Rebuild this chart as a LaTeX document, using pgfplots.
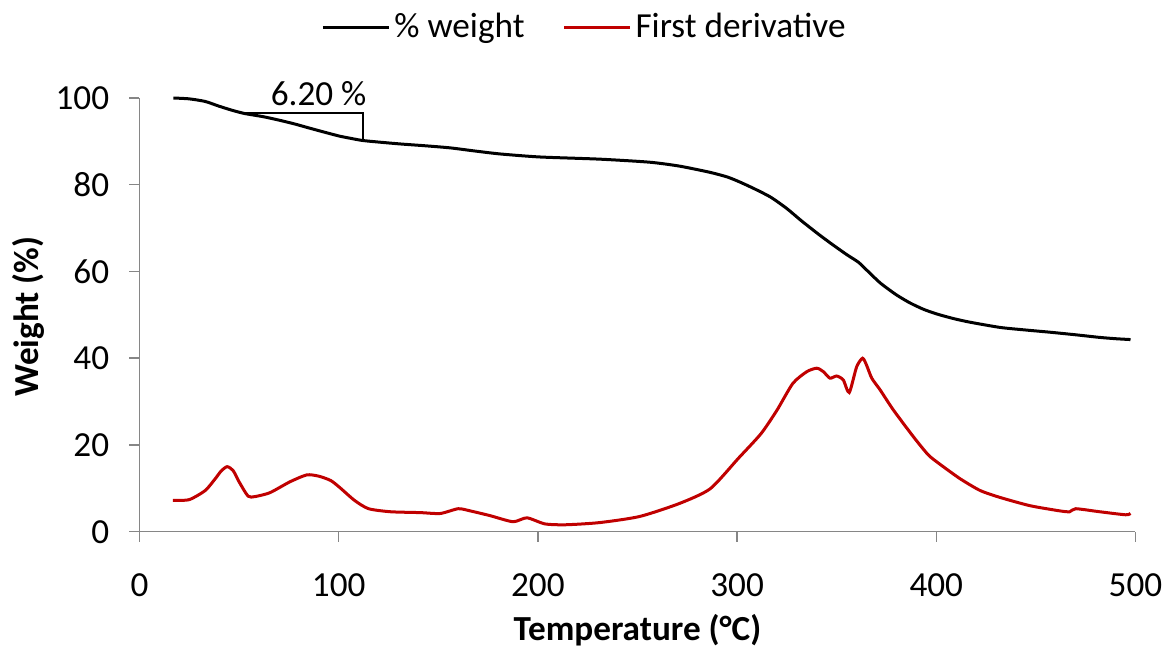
\documentclass[border=0pt]{standalone}
\usepackage{fontspec}
\setmainfont{Carlito}
\usepackage{pgfplots}
\pgfplotsset{compat=1.18}
\definecolor{dred}{RGB}{192,0,0}
\definecolor{axgrey}{RGB}{134,134,134}
\begin{document}
\fontsize{17.6}{21}\selectfont
\begin{tikzpicture}
\path[use as bounding box] (-69.75pt,-58.15pt) rectangle (514.25pt,265.85pt);
\begin{axis}[
  scale only axis,
  width=498pt, height=216.85pt,
  xmin=0, xmax=500, ymin=0, ymax=100,
  xtick={0,100,...,500}, ytick={0,20,...,100},
  axis x line*=bottom, axis y line*=left,
  axis line style={axgrey, line width=0.75pt},
  every tick/.style={axgrey, line width=0.75pt},
  tick align=outside, major tick length=5pt,
  /pgf/number format/assume math mode=true,
  xticklabel style={anchor=north, inner sep=0pt, yshift=-16pt},
  yticklabel style={anchor=east, inner sep=0pt, xshift=-10pt},
  xlabel={\bfseries Temperature (°C)},
  ylabel={\bfseries Weight (\%)},
  xlabel style={at={(axis description cs:0.5,0)}, anchor=center, yshift=-49.15pt},
  ylabel style={at={(axis description cs:0,0.496)}, anchor=center, yshift=55.75pt},
  legend columns=2,
  legend style={at={(0.4478,1.1614)}, anchor=center, draw=none, fill=none,
    /tikz/every even column/.append style={column sep=17pt}},
  legend image code/.code={\draw[#1] (0pt,0pt) -- (33pt,0pt);},
  clip=false,
]
\addplot[black, line width=1.5pt, smooth, tension=0.4] coordinates {
(17,100) (25,99.8) (33,99.2) (40,98.1) (47,97.1) (53,96.4) (62,95.7) (70,94.9) (78,94.0) (85,93.1) (93,92.1)
(100.5,91.2) (106,90.7) (112,90.2) (121,89.8) (131,89.4) (143,89.0) (156,88.5) (168,87.8) (181,87.1) (201,86.4)
(231,85.9) (256,85.2) (271,84.3) (286,82.9) (295,81.8) (301.5,80.6) (309,79.0) (317,77.1) (325,74.5) (332,71.8)
(340,68.9) (347,66.5) (355,63.9) (361,62.1) (366,59.9) (372,57.3) (380,54.6) (387,52.7) (394,51.2) (401,50.1)
(409,49.1) (417,48.3) (432,47.1) (445,46.5) (457,46.0) (470,45.4) (482,44.8) (490,44.5) (497.5,44.3)
};
\addlegendentry{\% weight}
\addplot[dred, line width=1.5pt, smooth, tension=0.4] coordinates {
(16.8,7.2) (25,7.4) (33,9.5) (38,12.2) (41,14.0) (44,15.0) (47,14.1) (50,11.5) (54.5,8.2) (58,8.1)
(65.5,9.0) (75.5,11.5) (84,13.1) (90,12.8) (96,11.8) (100.5,10.2) (108,7.2) (115,5.3) (126,4.6) (141,4.4) (151,4.2)
(160,5.3) (166,4.8) (176,3.7) (187.5,2.3) (194.5,3.2) (203.5,1.8) (214,1.6) (231,2.1) (251,3.5) (271,6.5)
(286.5,9.9) (300.6,16.9) (312,22.6) (320,28.0) (328,34.2) (335,36.9) (340,37.7) (343.3,36.9) (346.6,35.4)
(350,35.9) (353.3,35.0) (356.3,32.1) (360,38.0) (363,40.0) (365,38.4) (367.6,35.4) (371.8,32.7) (378.4,28.1)
(388.5,21.9) (396,17.7) (402,15.5) (412,12.2) (422,9.5) (432,7.9) (447,6.0) (462,4.8) (467,4.6) (470,5.3)
(482,4.6) (495,3.9) (497.5,4.2)
};
\addlegendentry{First derivative}
\draw[black, line width=0.75pt] (axis cs:51.3,96.5) -- (axis cs:112.1,96.5) -- (axis cs:112.1,90.3);
\node[anchor=base, inner sep=0pt] at (axis cs:89.9,98.3) {6.20 \%};
\end{axis}
\end{tikzpicture}
\end{document}
